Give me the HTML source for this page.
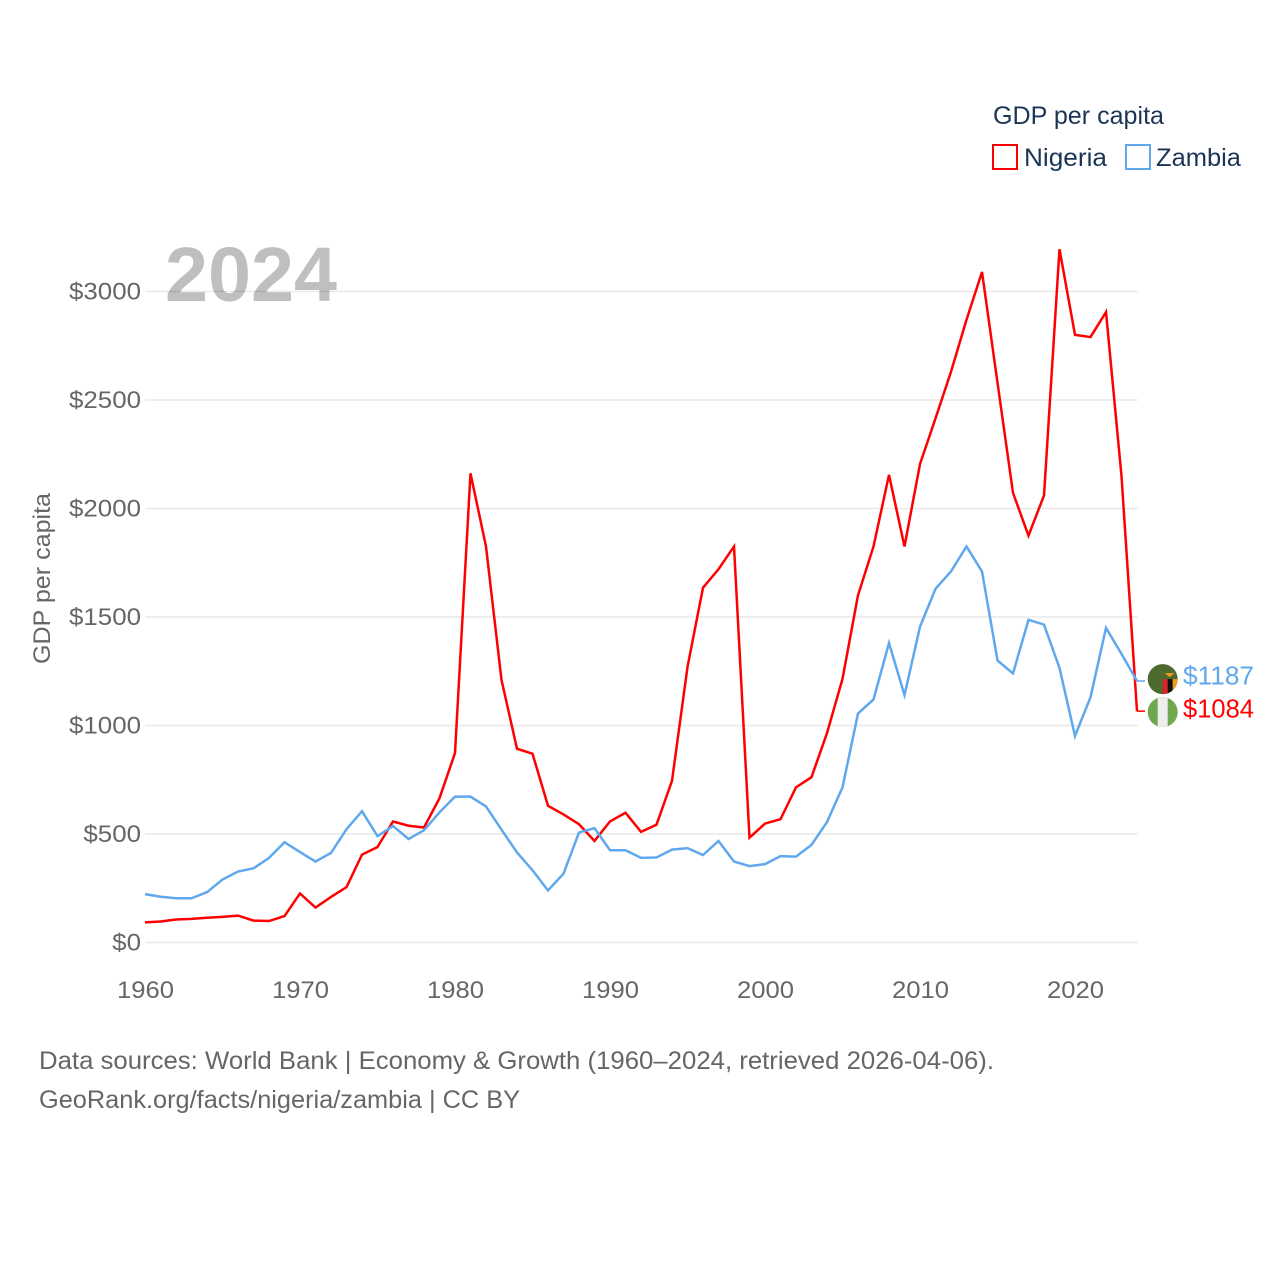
<!DOCTYPE html>
<html lang="en">
<head>
<meta charset="utf-8">
<title>GDP per capita: Nigeria and Zambia</title>
<style>
html,body{margin:0;padding:0;background:#fff;}
svg{display:block;font-family:"Liberation Sans",sans-serif;}
</style>
</head>
<body>
<svg id="chart" width="1280" height="1280" viewBox="0 0 1280 1280" xmlns="http://www.w3.org/2000/svg">
  <defs>
    <clipPath id="flag-clip-zambia"><circle cx="0" cy="0" r="15"/></clipPath>
    <clipPath id="flag-clip-nigeria"><circle cx="0" cy="0" r="15"/></clipPath>
  </defs>
  <text x="165" y="301" font-size="77" font-weight="700" fill="#bfbfbf" textLength="172" lengthAdjust="spacingAndGlyphs">2024</text>
  <g id="grid"></g>
  <g id="y-ticks"></g>
  <g id="x-ticks"></g>
  <text transform="translate(50,578.5) rotate(-90)" text-anchor="middle" font-size="24" fill="#666666" textLength="171" lengthAdjust="spacingAndGlyphs">GDP per capita</text>
  <g id="series"></g>
  <g id="end-labels"></g>

  <g>
    <text x="993" y="124" font-size="25" fill="#1b3556" textLength="171" lengthAdjust="spacingAndGlyphs">GDP per capita</text>
    <rect x="993" y="145" width="24" height="24" fill="none" stroke="#ff0000" stroke-width="2"/>
    <text x="1024" y="166" font-size="25" fill="#1b3556" textLength="83" lengthAdjust="spacingAndGlyphs">Nigeria</text>
    <rect x="1126" y="145" width="24" height="24" fill="none" stroke="#60a8ee" stroke-width="2"/>
    <text x="1156" y="166" font-size="25" fill="#1b3556" textLength="85" lengthAdjust="spacingAndGlyphs">Zambia</text>
  </g>

  <text x="39" y="1069" font-size="25" fill="#666666" textLength="955" lengthAdjust="spacingAndGlyphs">Data sources: World Bank | Economy &amp; Growth (1960–2024, retrieved 2026-04-06).</text>
  <text x="39" y="1108" font-size="25" fill="#666666" textLength="481" lengthAdjust="spacingAndGlyphs">GeoRank.org/facts/nigeria/zambia | CC BY</text>
</svg>
<script>
const years = [1960,1961,1962,1963,1964,1965,1966,1967,1968,1969,1970,1971,1972,1973,1974,1975,1976,1977,1978,1979,1980,1981,1982,1983,1984,1985,1986,1987,1988,1989,1990,1991,1992,1993,1994,1995,1996,1997,1998,1999,2000,2001,2002,2003,2004,2005,2006,2007,2008,2009,2010,2011,2012,2013,2014,2015,2016,2017,2018,2019,2020,2021,2022,2023,2024];
const nigeriaValues = [93,97,106,109,114,118,124,101,99,122,226,161,210,255,405,440,558,538,530,665,873,2162,1825,1210,893,870,630,590,545,468,558,598,510,543,745,1270,1635,1720,1825,483,548,568,715,762,965,1215,1600,1825,2155,1825,2205,2415,2630,2870,3090,2580,2072,1875,2060,3195,2800,2790,2905,2150,1066];
const zambiaValues = [223,211,204,204,232,290,327,342,390,462,417,373,413,522,605,490,537,477,517,600,672,672,627,520,415,333,240,317,507,527,425,425,390,392,428,435,403,468,373,352,361,398,396,450,555,715,1055,1120,1380,1140,1455,1630,1710,1825,1710,1300,1240,1487,1465,1265,952,1130,1450,1330,1205];
const yTickValues = [0,500,1000,1500,2000,2500,3000];
const xTickValues = [1960,1970,1980,1990,2000,2010,2020];
const nigeriaEndLabel = "$1084";
const zambiaEndLabel = "$1187";

const NS = "http://www.w3.org/2000/svg";
const xScale = function (year) { return 145 + (year - 1960) * 15.5; };
const yScale = function (value) { return 942.5 - value * 0.217; };

function make(parent, tag, attrs, text) {
  const el = document.createElementNS(NS, tag);
  for (const key in attrs) { el.setAttribute(key, attrs[key]); }
  if (text !== undefined) { el.textContent = text; }
  parent.appendChild(el);
  return el;
}

const gridGroup = document.getElementById("grid");
const yTickGroup = document.getElementById("y-ticks");
yTickValues.forEach(function (value) {
  const y = yScale(value);
  const line = make(gridGroup, "line", { x1: 145, x2: 1137.5, y1: y, y2: y, stroke: "rgba(0,0,0,0.09)", "stroke-width": 1.5 });
  
  
  const label = "$" + value;
  const text = make(yTickGroup, "text", { x: 141, y: y + 8, "text-anchor": "end", "font-size": 24, fill: "#666666", textLength: label.length * 14.4, lengthAdjust: "spacingAndGlyphs" }, label);
  
  
});

const xTickGroup = document.getElementById("x-ticks");
xTickValues.forEach(function (year) {
  const text = make(xTickGroup, "text", { x: xScale(year) + 0.5, y: 998, "text-anchor": "middle", "font-size": 24, fill: "#666666", textLength: 57, lengthAdjust: "spacingAndGlyphs" }, String(year));
  
  
});

function linePoints(values) {
  return values.map(function (value, i) {
    return xScale(years[i]).toFixed(2) + "," + yScale(value).toFixed(2);
  }).join(" ");
}

const seriesGroup = document.getElementById("series");
const nigeriaLine = make(seriesGroup, "polyline", { points: linePoints(nigeriaValues), fill: "none", stroke: "#ff0000", "stroke-width": 2.5, "stroke-linejoin": "miter" });


const zambiaLine = make(seriesGroup, "polyline", { points: linePoints(zambiaValues), fill: "none", stroke: "#60a8ee", "stroke-width": 2.5, "stroke-linejoin": "miter" });



/* End labels sit at their line's end and are pushed apart to a minimum gap. */
const endX = xScale(years[years.length - 1]);
const zambiaEndY = yScale(zambiaValues[zambiaValues.length - 1]);
const nigeriaEndY = yScale(nigeriaValues[nigeriaValues.length - 1]);
const minGap = 33;
const midY = (zambiaEndY + nigeriaEndY) / 2;
const gap = Math.max(minGap, Math.abs(nigeriaEndY - zambiaEndY));
const zambiaIsUpper = zambiaEndY <= nigeriaEndY;
const zambiaLabelY = midY + (zambiaIsUpper ? -gap / 2 : gap / 2) - 0.5;
const nigeriaLabelY = midY + (zambiaIsUpper ? gap / 2 : -gap / 2) - 0.5;

const endGroup = document.getElementById("end-labels");

const zambiaStub = make(endGroup, "line", { x1: endX, x2: endX + 8, y1: zambiaEndY, y2: zambiaEndY, stroke: "#60a8ee", "stroke-width": 1.5 });


const nigeriaStub = make(endGroup, "line", { x1: endX, x2: endX + 8, y1: nigeriaEndY, y2: nigeriaEndY, stroke: "#ff0000", "stroke-width": 1.5 });



const zambiaFlag = make(endGroup, "g", { transform: "translate(1162.7," + zambiaLabelY + ")", "clip-path": "url(#flag-clip-zambia)" });


make(zambiaFlag, "rect", { x: -16, y: -16, width: 32, height: 32, fill: "#4e6a2c" });
make(zambiaFlag, "rect", { x: 0, y: 0, width: 5, height: 16, fill: "#d8232a" });
make(zambiaFlag, "rect", { x: 5, y: 0, width: 5, height: 16, fill: "#111111" });
make(zambiaFlag, "rect", { x: 10, y: 0, width: 6, height: 16, fill: "#f39a21" });
make(zambiaFlag, "polygon", { points: "2,-6 12,-6 7,-2", fill: "#f39a21" });

const nigeriaFlag = make(endGroup, "g", { transform: "translate(1162.7," + nigeriaLabelY + ")", "clip-path": "url(#flag-clip-nigeria)" });


make(nigeriaFlag, "rect", { x: -16, y: -16, width: 32, height: 32, fill: "#70a84f" });
make(nigeriaFlag, "rect", { x: -5, y: -16, width: 10, height: 32, fill: "#eeeeee" });

const zambiaText = make(endGroup, "text", { x: 1183, y: zambiaLabelY + 5.5, "font-size": 26, fill: "#60a8ee", textLength: 71, lengthAdjust: "spacingAndGlyphs" }, zambiaEndLabel);


const nigeriaText = make(endGroup, "text", { x: 1183, y: nigeriaLabelY + 5.5, "font-size": 26, fill: "#ff0000", textLength: 71, lengthAdjust: "spacingAndGlyphs" }, nigeriaEndLabel);


</script>
</body>
</html>
